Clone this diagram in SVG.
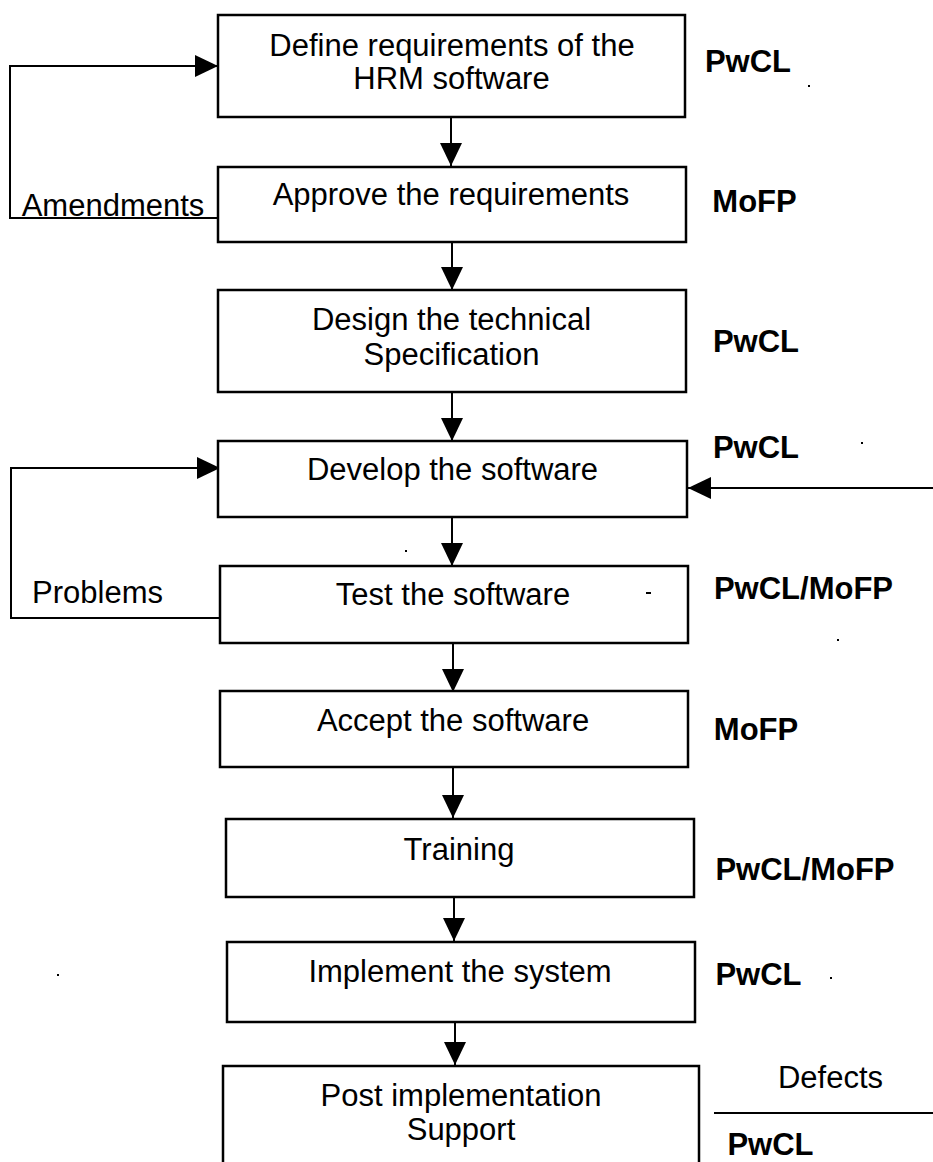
<svg xmlns="http://www.w3.org/2000/svg" width="933" height="1162" viewBox="0 0 933 1162">
  <style>
    .box { fill: #ffffff; stroke: #000000; stroke-width: 2.5; }
    .lbl { font-family: "Liberation Sans", Arial, sans-serif; font-size: 31px; fill: #000000; text-anchor: middle; }
    .who { font-family: "Liberation Sans", Arial, sans-serif; font-size: 31px; font-weight: bold; fill: #000000; text-anchor: middle; }
    .conn { fill: none; stroke: #000000; stroke-width: 2; }
  </style>
  <defs>
    <marker id="arrow" viewBox="0 0 23 22" refX="23" refY="11" markerWidth="23" markerHeight="22" markerUnits="userSpaceOnUse" orient="auto">
      <path d="M0,0 L23,11 L0,22 Z" fill="#000000"/>
    </marker>
  </defs>
  <rect width="933" height="1162" fill="#ffffff"/>

  <!-- connectors -->
  <g id="connectors">
    <path class="conn" d="M451,117 V166" marker-end="url(#arrow)"/>
    <path class="conn" d="M452,242 V290" marker-end="url(#arrow)"/>
    <path class="conn" d="M452,392 V441" marker-end="url(#arrow)"/>
    <path class="conn" d="M452,517 V566" marker-end="url(#arrow)"/>
    <path class="conn" d="M453,643 V692" marker-end="url(#arrow)"/>
    <path class="conn" d="M453,767 V818" marker-end="url(#arrow)"/>
    <path class="conn" d="M454,893 V941" marker-end="url(#arrow)"/>
    <path class="conn" d="M455,1017 V1065" marker-end="url(#arrow)"/>
    <!-- amendments loop back to requirements -->
    <path class="conn" d="M218,218 H10 V66 H218" marker-end="url(#arrow)"/>
    <!-- problems loop back to development -->
    <path class="conn" d="M220,618 H11 V468 H220" marker-end="url(#arrow)"/>
    <!-- incoming input from the right -->
    <path class="conn" d="M933,488 H688" marker-end="url(#arrow)"/>
    <!-- defects divider -->
    <path class="conn" d="M714,1113 H933"/>
  </g>

  <g id="define">
    <rect class="box" x="218" y="15" width="467" height="102"/>
    <text class="lbl" x="452" y="56">Define requirements of the</text>
    <text class="lbl" x="451.5" y="89">HRM software</text>
  </g>
  <g id="approve">
    <rect class="box" x="218" y="167" width="468" height="75"/>
    <text class="lbl" x="451" y="205">Approve the requirements</text>
  </g>
  <g id="design">
    <rect class="box" x="218" y="290" width="468" height="102"/>
    <text class="lbl" x="451.5" y="330">Design the technical</text>
    <text class="lbl" x="451.5" y="365">Specification</text>
  </g>
  <g id="develop">
    <rect class="box" x="218" y="441" width="469" height="76"/>
    <text class="lbl" x="452.5" y="480">Develop the software</text>
  </g>
  <g id="test">
    <rect class="box" x="220" y="566" width="468" height="77"/>
    <text class="lbl" x="453" y="605">Test the software</text>
    <rect x="646" y="592" width="5" height="2" fill="#000000"/>
  </g>
  <g id="accept">
    <rect class="box" x="220" y="691" width="468" height="76"/>
    <text class="lbl" x="453" y="731">Accept the software</text>
  </g>
  <g id="training">
    <rect class="box" x="226" y="819" width="468" height="78"/>
    <text class="lbl" x="459" y="860">Training</text>
  </g>
  <g id="implement">
    <rect class="box" x="227" y="942" width="468" height="80"/>
    <text class="lbl" x="460" y="982">Implement the system</text>
  </g>
  <g id="support">
    <rect class="box" x="223" y="1066" width="476" height="110"/>
    <text class="lbl" x="461" y="1106">Post implementation</text>
    <text class="lbl" x="461" y="1140">Support</text>
  </g>

  <!-- loop and side labels -->
  <g id="loop-labels">
    <text class="lbl" x="113" y="216">Amendments</text>
    <text class="lbl" x="97.5" y="603">Problems</text>
    <text class="lbl" x="830.5" y="1088">Defects</text>
  </g>

  <!-- responsible parties -->
  <g id="owners">
    <text class="who" x="748" y="72">PwCL</text>
    <text class="who" x="754.5" y="212">MoFP</text>
    <text class="who" x="756" y="352">PwCL</text>
    <text class="who" x="756" y="458">PwCL</text>
    <text class="who" x="803.5" y="599">PwCL/MoFP</text>
    <text class="who" x="756" y="740">MoFP</text>
    <text class="who" x="805" y="880">PwCL/MoFP</text>
    <text class="who" x="758.5" y="985">PwCL</text>
    <text class="who" x="770.5" y="1155">PwCL</text>
  </g>

  <!-- specks -->
  <g id="specks" fill="#000000">
    <rect x="808" y="85" width="2" height="2"/>
    <rect x="861" y="442" width="2" height="2"/>
    <rect x="405" y="550" width="2" height="2"/>
    <rect x="837" y="639" width="2" height="2"/>
    <rect x="830" y="977" width="2" height="2"/>
    <rect x="57" y="974" width="2" height="2"/>
  </g>
</svg>
